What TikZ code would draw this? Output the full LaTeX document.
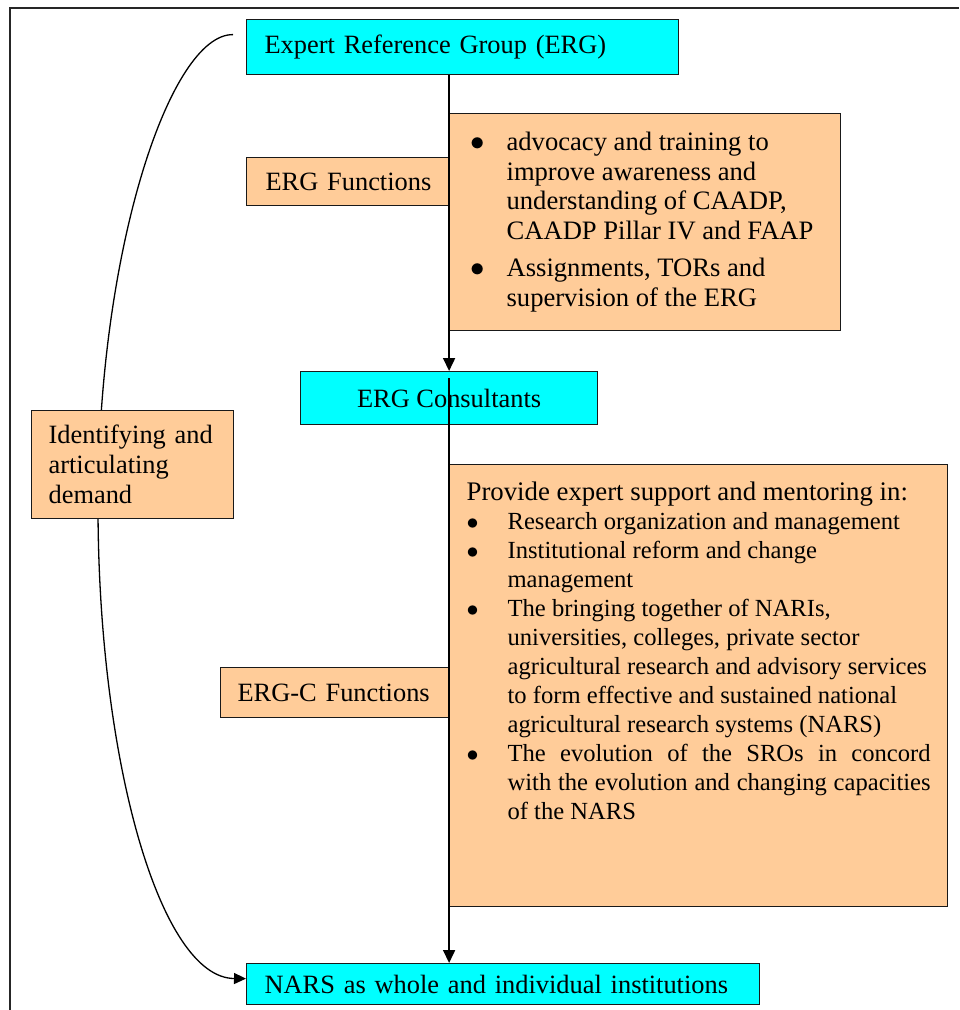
\documentclass[tikz,border=0pt]{standalone}
\usepackage{fontspec}
\setmainfont{Liberation Serif}
\usepackage{tikz}
\usetikzlibrary{arrows.meta}
\usetikzlibrary{backgrounds}
\usepackage{xcolor}
\definecolor{ColCyan}{RGB}{0,255,255}
\definecolor{ColPeach}{RGB}{255,204,153}
\tikzstyle{BoxBase}=[rectangle,draw=black!90,line width=.6pt,anchor=north west,
font=\fontsize{13.2}{15}\selectfont]
\tikzstyle{BoxCyan}=[BoxBase,fill=ColCyan]
\tikzstyle{BoxPeach}=[BoxBase,fill=ColPeach]
\tikzstyle{EdgeFlow}=[black,line width=.85pt,-{Triangle[length=6.5pt,width=6pt]}]
\tikzstyle{EdgeLoop}=[black,line width=.65pt,-{Triangle[length=6pt,width=5.5pt]}]
\tikzstyle{FrameLine}=[black!85,line width=1pt]
\newcommand{\Bul}[1]{\hspace*{#1}$\bullet$}

\begin{document}
\begin{tikzpicture}[x=.5pt,y=-.5pt]
        \useasboundingbox(0,0)rectangle(959,1010);
        \draw[FrameLine](10,1010)--(10,8)--(959,8);
        % the two levels and the target
        \node[BoxCyan,text width=198pt,inner xsep=9pt,minimum height=27.5pt,align=left](erg)at(246,19){Expert Reference Group (ERG)};
        \node[BoxCyan,minimum width=148.5pt,minimum height=26.5pt,inner sep=0pt](cons)at(300,371){ERG Consultants};
        \node[BoxCyan,text width=238.5pt,inner xsep=9pt,minimum height=20.5pt,align=left](nars)at(246,963){\raisebox{-1.5pt}{NARS as whole and individual institutions}};
        % function labels
        \node[BoxPeach,text width=82.5pt,inner xsep=9.5pt,minimum height=24pt,align=left](efun)at(246,157){\mbox{ERG Functions}};
        \node[BoxPeach,text width=97.5pt,inner xsep=8.5pt,minimum height=25pt,align=left](ecfun)at(220,667){\mbox{ERG-C Functions}};
        \node[BoxPeach,text width=84pt,inner xsep=8.5pt,minimum height=54pt,align=left](idf)at(31,410){Identifying~and\\articulating\\demand};
        % function lists
        \node[BoxPeach,inner xsep=8.5pt,inner ysep=8pt,font=\fontsize{13.3}{14.85}\selectfont](elist)at(449,113){%
            \parbox[t][92.5pt][t]{178.5pt}{\begin{tabular}[t]{@{}p{20pt}@{}l@{}}
            \Bul{2pt} & advocacy and training to\\
             & improve awareness and\\
             & understanding of CAADP,\\
             & CAADP Pillar IV and FAAP\\[3.7pt]
            \Bul{2pt} & Assignments, TORs and\\
             & supervision of the ERG
            \end{tabular}}};
        \node[BoxPeach,inner xsep=8.5pt,inner ysep=8pt,font=\fontsize{12.3}{14.5}\selectfont](eclist)at(449,464){%
            \parbox[t][205pt][t]{232pt}{\begin{tabular}[t]{@{}p{20.5pt}@{}l@{}}
            \multicolumn{2}{@{}l@{}}{\fontsize{13.4}{14.5}\selectfont Provide expert support and mentoring in:}\\
            \Bul{0pt} & Research organization and management\\
            \Bul{0pt} & Institutional reform and change\\
             & management\\
            \Bul{0pt} & The bringing together of NARIs,\\
             & universities, colleges, private sector\\
             & agricultural research and advisory services\\
             & to form effective and sustained national\\
             & agricultural research systems (NARS)\\
            \Bul{0pt} & \makebox[211.5pt][s]{The evolution of the SROs in concord}\\
             & \makebox[211.5pt][s]{with the evolution and changing capacities}\\
             & of the NARS
            \end{tabular}}};
        % connectors
        \draw[EdgeFlow](erg.south -| cons.north)--(cons.north);
        \draw[EdgeFlow]([yshift=-3.5pt]cons.north)--(nars.north -| cons.north);
        \coordinate(ergL)at([shift={(-6.5pt,6.25pt)}]erg.west);
        \begin{scope}[on background layer]
        \draw[EdgeLoop](ergL)..controls(170,34)and(98,250)..(98,506)
            ..controls(98,760)and(160,978)..([yshift=2.75pt]nars.west);
        \end{scope}
    \end{tikzpicture}
\end{document}
